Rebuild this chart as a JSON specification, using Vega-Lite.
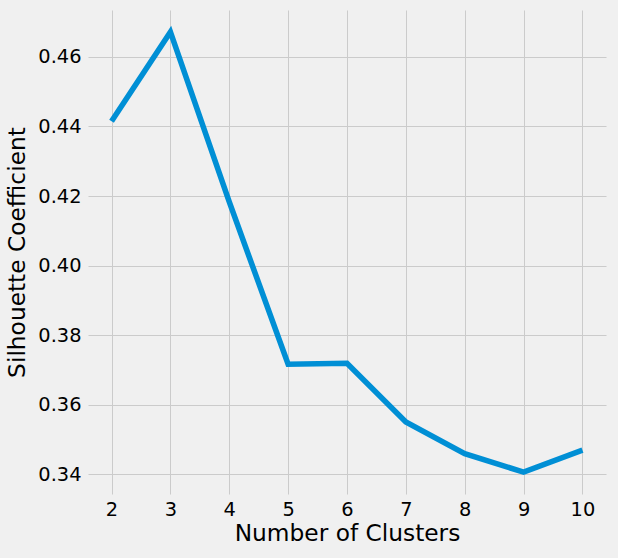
{
  "$schema": "https://vega.github.io/schema/vega-lite/v6.json",
  "autosize": {"type": "none"},
  "width": 518,
  "height": 484,
  "padding": {"left": 88, "top": 10, "right": 12, "bottom": 64},
  "background": "#f0f0f0",
  "config": {
    "view": {"fill": "#f0f0f0", "stroke": null},
    "font": "DejaVu Sans",
    "axis": {
      "domain": false,
      "ticks": false,
      "grid": true,
      "gridColor": "#cbcbcb",
      "gridWidth": 1,
      "labelFont": "DejaVu Sans",
      "labelFontSize": 19.4,
      "labelColor": "#000000",
      "titleFont": "DejaVu Sans",
      "titleFontSize": 23.3,
      "titleFontWeight": "normal",
      "titleColor": "#000000"
    }
  },
  "data": {
    "values": [
      {"k": 2, "s": 0.4415},
      {"k": 3, "s": 0.4672},
      {"k": 4, "s": 0.4183},
      {"k": 5, "s": 0.3716},
      {"k": 6, "s": 0.3719},
      {"k": 7, "s": 0.3550},
      {"k": 8, "s": 0.3459},
      {"k": 9, "s": 0.3406},
      {"k": 10, "s": 0.3469}
    ]
  },
  "mark": {"type": "line", "color": "#008fd5", "strokeWidth": 5.56, "strokeCap": "butt", "clip": true},
  "encoding": {
    "x": {
      "field": "k",
      "type": "quantitative",
      "title": "Number of Clusters",
      "scale": {"domain": [1.6, 10.4], "nice": false, "zero": false},
      "axis": {"values": [2, 3, 4, 5, 6, 7, 8, 9, 10], "labelPadding": 6, "titlePadding": 4, "labelFlush": false}
    },
    "y": {
      "field": "s",
      "type": "quantitative",
      "title": "Silhouette Coefficient",
      "scale": {"domain": [0.3343, 0.4735], "nice": false, "zero": false},
      "axis": {"values": [0.34, 0.36, 0.38, 0.4, 0.42, 0.44, 0.46], "format": ".2f", "labelPadding": 7, "titlePadding": 8, "labelFlush": false}
    }
  }
}
